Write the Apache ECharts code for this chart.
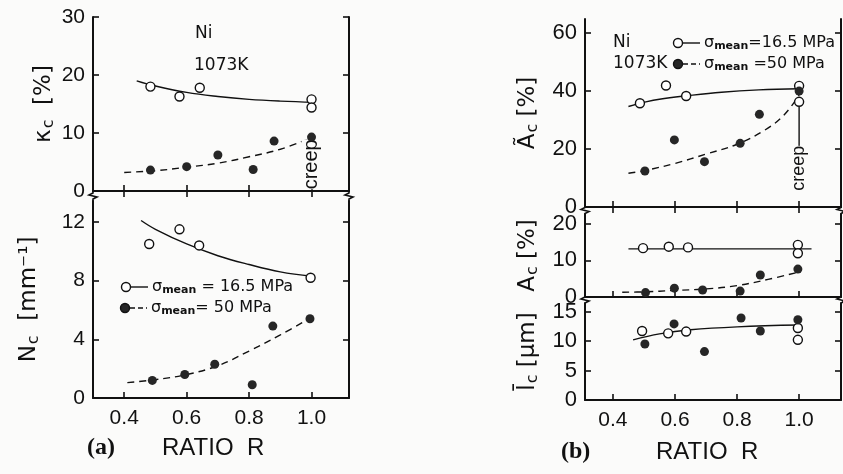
<!DOCTYPE html>
<html>
<head>
    <meta charset="utf-8">
    <title>Ni 1073K - ratio R</title>
    <script src="https://cdn.jsdelivr.net/npm/echarts@6/dist/echarts.min.js"></script>
    <style>
        html, body { margin: 0; padding: 0; background: #fbfbfa; }
        #main { width: 843px; height: 474px; }
    </style>
</head>
<body>
<div id="main"></div>
<script type="text/javascript">
    // tick values
    var xTicks = [0.4, 0.6, 0.8, 1.0];
    var kTicks = [0, 10, 20, 30];
    var nTicks = [0, 4, 8, 12];
    var atTicks = [0, 20, 40, 60];
    var acTicks = [0, 10, 20];
    var lcTicks = [0, 5, 10, 15];

    // (a) kappa_c [%]
    var kOpenR = [0.484, 0.577, 0.642, 1.0, 1.0];
    var kOpenV = [18.0, 16.3, 17.8, 15.8, 14.4];
    var kFillR = [0.484, 0.600, 0.700, 0.813, 0.880, 1.0];
    var kFillV = [3.6, 4.2, 6.2, 3.7, 8.6, 9.3];
    var kFitOpenR = [0.44, 0.50, 0.60, 0.70, 0.80, 0.90, 1.01];
    var kFitOpenV = [19.0, 18.1, 17.0, 16.3, 15.8, 15.5, 15.3];
    var kFitFillR = [0.40, 0.50, 0.60, 0.70, 0.80, 0.90, 1.00];
    var kFitFillV = [3.2, 3.5, 4.1, 4.8, 5.9, 7.2, 9.2];

    // (a) N_c [mm-1]
    var nOpenR = [0.480, 0.577, 0.640, 0.997];
    var nOpenV = [10.5, 11.5, 10.4, 8.2];
    var nFillR = [0.490, 0.594, 0.690, 0.810, 0.876, 0.995];
    var nFillV = [1.2, 1.6, 2.3, 0.9, 4.9, 5.4];
    var nFitOpenR = [0.454, 0.50, 0.60, 0.70, 0.80, 0.90, 1.00];
    var nFitOpenV = [12.1, 11.5, 10.5, 9.7, 9.1, 8.6, 8.3];
    var nFitFillR = [0.41, 0.50, 0.60, 0.70, 0.80, 0.90, 1.00];
    var nFitFillV = [1.05, 1.25, 1.6, 2.2, 3.2, 4.3, 5.5];

    // (b) A~_c [%]
    var atOpenR = [0.487, 0.571, 0.636, 1.0, 1.0];
    var atOpenV = [35.7, 41.8, 38.2, 41.7, 36.2];
    var atFillR = [0.503, 0.598, 0.695, 0.810, 0.872, 1.0];
    var atFillV = [12.4, 23.1, 15.6, 21.9, 31.9, 39.9];
    var atFitOpenR = [0.45, 0.50, 0.55, 0.64, 0.75, 0.87, 1.00];
    var atFitOpenV = [34.6, 36.0, 37.1, 38.3, 39.5, 40.3, 40.7];
    var atFitFillR = [0.45, 0.50, 0.60, 0.70, 0.80, 0.89, 0.95, 1.00];
    var atFitFillV = [11.6, 12.5, 15.0, 18.2, 21.6, 26.5, 31.5, 38.5];

    // (b) A_c [%]
    var acOpenR = [0.497, 0.580, 0.642, 0.996, 0.996];
    var acOpenV = [13.3, 13.7, 13.5, 14.2, 11.9];
    var acFillR = [0.505, 0.598, 0.689, 0.810, 0.875, 0.996];
    var acFillV = [1.2, 2.4, 1.9, 1.6, 6.0, 7.6];
    var acFitOpenR = [0.45, 1.04];
    var acFitOpenV = [13.1, 13.1];
    var acFitFillR = [0.43, 0.50, 0.60, 0.70, 0.80, 0.90, 1.00];
    var acFitFillV = [1.3, 1.4, 1.8, 2.2, 3.1, 4.8, 6.8];

    // (b) l_c [um]
    var lcOpenR = [0.494, 0.578, 0.636, 0.996, 0.996];
    var lcOpenV = [11.7, 11.3, 11.6, 12.2, 10.2];
    var lcFillR = [0.503, 0.597, 0.695, 0.813, 0.875, 0.996];
    var lcFillV = [9.5, 12.9, 8.2, 13.9, 11.7, 13.6];
    var lcFitR = [0.465, 0.55, 0.65, 0.80, 1.00];
    var lcFitV = [10.2, 11.2, 11.9, 12.4, 12.7];

    // creep marker
    var creepR = [1.0];
    var creepKV = [4.6];
    var creepAtV = [13.3];
    var creepLineR = [1.0, 1.0];
    var creepLineV = [34.6, 21.0];

    var INK = '#111';
    var FONT = 'DejaVu Sans';

    function pairs(xs, ys) {
        return xs.map(function (x, i) { return [x, ys[i]]; });
    }

    var myChart = echarts.init(document.getElementById('main'));

    // panel layout
    var panels = [
        {left: 93, top: 17, width: 256, height: 174, xmin: 0.3, xmax: 1.12, ymax: 30, ticks: kTicks,
            topAxis: true, xLabels: false, name: '{m|κ}{s|c}{m|  [%]}', nameGap: 36, fs: 21},
        {left: 93, top: 201, width: 256, height: 197, xmin: 0.3, xmax: 1.12, ymax: 13.43, ticks: nTicks,
            topAxis: false, xLabels: true, name: '{m|N}{s|c}{m|  [mm⁻¹]}', nameGap: 51, fs: 21},
        {left: 585, top: 19, width: 256, height: 188, xmin: 0.31, xmax: 1.135, ymax: 64.7, ticks: atTicks,
            topAxis: true, xLabels: false, name: '{m|Ã}{s|c}{m| [%]}', nameGap: 44, fs: 22},
        {left: 585, top: 214, width: 256, height: 83, xmin: 0.31, xmax: 1.135, ymax: 22.6, ticks: acTicks,
            topAxis: false, xLabels: false, name: '{m|A}{s|c}{m| [%]}', nameGap: 44, fs: 22},
        {left: 585, top: 303, width: 256, height: 97, xmin: 0.31, xmax: 1.135, ymax: 16.44, ticks: lcTicks,
            topAxis: false, xLabels: true, name: '{m|l̄}{s|c}{m| [μm]}', nameGap: 44, fs: 22}
    ];

    var grids = [], xAxes = [], yAxes = [];

    function line() {
        return {show: true, lineStyle: {color: INK, width: 2, opacity: 1}};
    }

    function tick(vals) {
        return {show: true, inside: true, length: 6, customValues: vals,
            lineStyle: {color: INK, width: 1.6, opacity: 1}};
    }

    var nameRich = {
        m: {fontSize: 23, fontFamily: FONT, color: INK},
        s: {fontSize: 16, fontFamily: FONT, color: INK, padding: [9, 0, 0, 1]}
    };

    panels.forEach(function (p, i) {
        grids.push({left: p.left, top: p.top, width: p.width, height: p.height, containLabel: false});
        p.xi = xAxes.length;
        xAxes.push({
            type: 'value', gridIndex: i, position: 'bottom', min: p.xmin, max: p.xmax,
            axisLine: line(), axisTick: tick(xTicks),
            axisLabel: {show: p.xLabels, customValues: xTicks, margin: 10, fontSize: 21,
                fontFamily: 'Liberation Sans', color: INK, formatter: function (v) { return v.toFixed(1); }},
            splitLine: {show: false}
        });
        if (p.topAxis) {
            xAxes.push({
                type: 'value', gridIndex: i, position: 'top', min: p.xmin, max: p.xmax,
                axisLine: line(), axisTick: tick(xTicks),
                axisLabel: {show: false},
                splitLine: {show: false}
            });
        }
        p.yi = yAxes.length;
        yAxes.push({
            type: 'value', gridIndex: i, position: 'left', min: 0, max: p.ymax,
            axisLine: line(), axisTick: tick(p.ticks),
            axisLabel: {show: true, customValues: p.ticks, margin: 8, fontSize: p.fs,
                fontFamily: 'Liberation Sans', color: INK},
            splitLine: {show: false},
            name: p.name, nameLocation: 'middle', nameRotate: 90, nameGap: p.nameGap,
            nameTextStyle: {rich: nameRich}
        });
        yAxes.push({
            type: 'value', gridIndex: i, position: 'right', min: 0, max: p.ymax,
            axisLine: line(), axisTick: tick(p.ticks),
            axisLabel: {show: false},
            splitLine: {show: false}
        });
    });

    function dots(pi, xs, ys, filled) {
        return {
            type: 'scatter', xAxisIndex: panels[pi].xi, yAxisIndex: panels[pi].yi,
            data: pairs(xs, ys), symbol: 'circle', symbolSize: 9, z: 5,
            itemStyle: filled ? {color: '#262626', opacity: 1}
                : {color: '#ffffff', borderColor: INK, borderWidth: 1.4, opacity: 1},
            emphasis: {disabled: true}
        };
    }

    function fit(pi, xs, ys, dashed) {
        return {
            type: 'line', xAxisIndex: panels[pi].xi, yAxisIndex: panels[pi].yi,
            data: pairs(xs, ys), smooth: 0.4, symbol: 'none', z: 3,
            lineStyle: {color: INK, width: 1.4, type: dashed ? [7, 5] : 'solid'}
        };
    }

    function creep(pi, ys, size) {
        return {
            type: 'scatter', xAxisIndex: panels[pi].xi, yAxisIndex: panels[pi].yi,
            data: pairs(creepR, ys), symbolSize: 0, z: 4, silent: true,
            itemStyle: {opacity: 1},
            label: {show: true, position: 'inside', formatter: 'creep', rotate: 90,
                fontSize: size, fontFamily: 'Liberation Sans', color: INK, opacity: 1,
                backgroundColor: '#fbfbfa'}
        };
    }

    var series = [
        fit(0, kFitOpenR, kFitOpenV, false), fit(0, kFitFillR, kFitFillV, true),
        dots(0, kOpenR, kOpenV, false), dots(0, kFillR, kFillV, true), creep(0, creepKV, 20),

        fit(1, nFitOpenR, nFitOpenV, false), fit(1, nFitFillR, nFitFillV, true),
        dots(1, nOpenR, nOpenV, false), dots(1, nFillR, nFillV, true),

        fit(2, atFitOpenR, atFitOpenV, false), fit(2, atFitFillR, atFitFillV, true),
        fit(2, creepLineR, creepLineV, false),
        dots(2, atOpenR, atOpenV, false), dots(2, atFillR, atFillV, true), creep(2, creepAtV, 18),

        fit(3, acFitOpenR, acFitOpenV, false), fit(3, acFitFillR, acFitFillV, true),
        dots(3, acOpenR, acOpenV, false), dots(3, acFillR, acFillV, true),

        fit(4, lcFitR, lcFitV, false),
        dots(4, lcOpenR, lcOpenV, false), dots(4, lcFillR, lcFillV, true)
    ];

    // axis break marks between stacked panels
    function brk(x, y0, y1) {
        var m = (y0 + y1) / 2;
        return {type: 'polyline', z: 10, silent: true,
            shape: {points: [[x, y0], [x, m - 3], [x - 4, m - 1], [x + 4, m + 1], [x, m + 3], [x, y1]]},
            style: {stroke: INK, lineWidth: 1.6, fill: null}};
    }

    function legendRow(x, y, filled, text, fs) {
        return {type: 'group', children: [
            {type: 'line', shape: {x1: x + 5, y1: y, x2: x + 22, y2: y},
                style: {stroke: INK, lineWidth: 1.4, lineDash: filled ? [5, 3] : null}},
            {type: 'circle', shape: {cx: x, cy: y, r: 4.5},
                style: {fill: filled ? '#262626' : '#fff', stroke: INK, lineWidth: 1.4}},
            {type: 'text', x: x + 26, y: y, style: {text: text, verticalAlign: 'middle',
                rich: {g: {fontSize: fs, fontFamily: FONT, fill: INK},
                    sub: {fontSize: fs - 5, fontFamily: FONT, fill: INK, fontWeight: 'bold', padding: [7, 0, 0, 0]}}}}
        ]};
    }

    function label(text, x, y, fs, family, weight) {
        return {type: 'text', x: x, y: y, style: {text: text, fontSize: fs, fontFamily: family || FONT,
            fontWeight: weight || 'normal', fill: INK, verticalAlign: 'middle', align: 'left'}};
    }

    var graphic = [
        brk(93, 191, 201), brk(349, 191, 201),
        brk(585, 207, 214), brk(841, 207, 214),
        brk(585, 297, 303), brk(841, 297, 303),
        label('Ni', 195, 34, 17), label('1073K', 194, 66, 17),
        label('Ni', 613, 43, 17), label('1073K', 613, 64, 17),
        legendRow(126, 287, false, '{g|σ}{sub|mean}{g| = 16.5 MPa}', 16),
        legendRow(125, 308, true, '{g|σ}{sub|mean}{g|= 50 MPa}', 16),
        legendRow(678, 43, false, '{g|σ}{sub|mean}{g|=16.5 MPa}', 16),
        legendRow(678, 64, true, '{g|σ}{sub|mean}{g| =50 MPa}', 16),
        label('(a)', 87, 448, 24, 'Liberation Serif', 'bold'),
        label('RATIO  R', 162, 448, 24, 'Liberation Sans'),
        label('(b)', 561, 452, 24, 'Liberation Serif', 'bold'),
        label('RATIO  R', 656, 452, 24, 'Liberation Sans')
    ];

    var option = {
        backgroundColor: '#fbfbfa',
        animation: false,
        grid: grids,
        xAxis: xAxes,
        yAxis: yAxes,
        series: series,
        graphic: graphic
    };

    myChart.setOption(option);
</script>
</body>
</html>
